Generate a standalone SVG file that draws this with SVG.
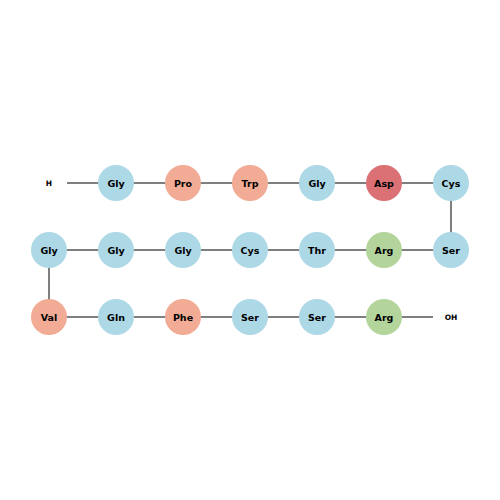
<svg xmlns="http://www.w3.org/2000/svg" width="500" height="500" viewBox="0 0 500 500">
<style>
.c{stroke:none}
.b{fill:#add8e6}.s{fill:#f2ab94}.r{fill:#db7075}.g{fill:#b3d59c}
text{font-family:"DejaVu Sans",sans-serif;font-weight:bold;text-anchor:middle;dominant-baseline:central;fill:#000}
.n{font-size:9.5px}.t{font-size:7.5px}
.l{stroke:#555;stroke-width:1.5;fill:none}
</style>
<rect width="500" height="500" fill="#fff"/>
<g id="connectors" class="l">
<line x1="67" y1="183" x2="451" y2="183"/>
<line x1="451" y1="183" x2="451" y2="250"/>
<line x1="49" y1="250" x2="451" y2="250"/>
<line x1="49" y1="250" x2="49" y2="317"/>
<line x1="49" y1="317" x2="433" y2="317"/>
</g>
<g id="H"><text class="t" x="49" y="183">H</text></g>
<g id="n1"><circle class="b" cx="116" cy="183" r="18"/><text class="n" x="116" y="183">Gly</text></g>
<g id="n2"><circle class="s" cx="183" cy="183" r="18"/><text class="n" x="183" y="183">Pro</text></g>
<g id="n3"><circle class="s" cx="250" cy="183" r="18"/><text class="n" x="250" y="183">Trp</text></g>
<g id="n4"><circle class="b" cx="317" cy="183" r="18"/><text class="n" x="317" y="183">Gly</text></g>
<g id="n5"><circle class="r" cx="384" cy="183" r="18"/><text class="n" x="384" y="183">Asp</text></g>
<g id="n6"><circle class="b" cx="451" cy="183" r="18"/><text class="n" x="451" y="183">Cys</text></g>
<g id="n7"><circle class="b" cx="451" cy="250" r="18"/><text class="n" x="451" y="250">Ser</text></g>
<g id="n8"><circle class="g" cx="384" cy="250" r="18"/><text class="n" x="384" y="250">Arg</text></g>
<g id="n9"><circle class="b" cx="317" cy="250" r="18"/><text class="n" x="317" y="250">Thr</text></g>
<g id="n10"><circle class="b" cx="250" cy="250" r="18"/><text class="n" x="250" y="250">Cys</text></g>
<g id="n11"><circle class="b" cx="183" cy="250" r="18"/><text class="n" x="183" y="250">Gly</text></g>
<g id="n12"><circle class="b" cx="116" cy="250" r="18"/><text class="n" x="116" y="250">Gly</text></g>
<g id="n13"><circle class="b" cx="49" cy="250" r="18"/><text class="n" x="49" y="250">Gly</text></g>
<g id="n14"><circle class="s" cx="49" cy="317" r="18"/><text class="n" x="49" y="317">Val</text></g>
<g id="n15"><circle class="b" cx="116" cy="317" r="18"/><text class="n" x="116" y="317">Gln</text></g>
<g id="n16"><circle class="s" cx="183" cy="317" r="18"/><text class="n" x="183" y="317">Phe</text></g>
<g id="n17"><circle class="b" cx="250" cy="317" r="18"/><text class="n" x="250" y="317">Ser</text></g>
<g id="n18"><circle class="b" cx="317" cy="317" r="18"/><text class="n" x="317" y="317">Ser</text></g>
<g id="n19"><circle class="g" cx="384" cy="317" r="18"/><text class="n" x="384" y="317">Arg</text></g>
<g id="OH"><text class="t" x="451" y="317">OH</text></g>
</svg>
